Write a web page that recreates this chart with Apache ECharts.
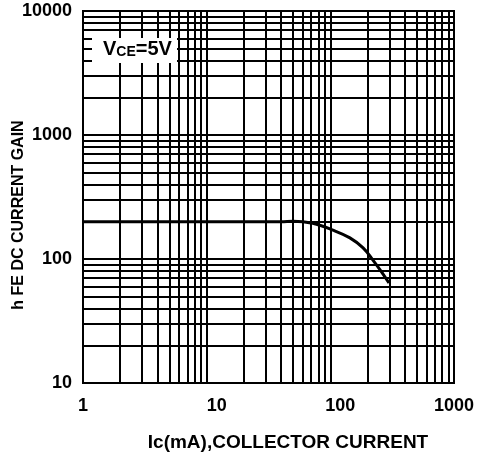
<!DOCTYPE html>
<html>
<head>
<meta charset="utf-8">
<script src="https://cdn.jsdelivr.net/npm/echarts@6/dist/echarts.min.js"></script>
<style>
html,body{margin:0;padding:0;background:#fff;}
#c{width:478px;height:456px;}
</style>
</head>
<body>
<div id="c"></div>
<script>
var xTicks = [1, 10, 100, 1000];
var yTicks = [10, 100, 1000, 10000];
var currentMA = [1, 40, 50, 72, 105, 144, 184, 221, 261, 298];
var hfeGain = [200, 200, 202, 194, 171, 148, 123, 98, 78, 64];
var xTitle = 'Ic(mA),COLLECTOR CURRENT';
var yTitle = 'h FE DC CURRENT GAIN';

var FONT = '"Liberation Sans", Arial, sans-serif';
var chart = echarts.init(document.getElementById('c'));
var data = currentMA.map(function (v, i) { return [v, hfeGain[i]]; });

chart.setOption({
  animation: false,
  backgroundColor: '#fff',
  grid: { left: 83, right: 24, top: 11, bottom: 73, show: true, borderColor: '#000', borderWidth: 2 },
  xAxis: {
    type: 'log', logBase: 10, min: xTicks[0], max: xTicks[xTicks.length - 1],
    axisLine: { show: true, lineStyle: { color: '#000', width: 2 } },
    axisTick: { show: false },
    minorTick: { show: false, splitNumber: 9 },
    splitLine: { show: true, lineStyle: { color: '#000', width: 2 } },
    minorSplitLine: { show: true, lineStyle: { color: '#000', width: 2 } },
    axisLabel: {
      margin: 14, color: '#000',
      formatter: function (v) { return (v === 10 || v === 100) ? '{s|' + v + '}' : '{n|' + v + '}'; },
      rich: {
        s: { padding: [0, 0, 0, 20], fontWeight: 'bold', fontSize: 18, fontFamily: FONT, color: '#000' },
        n: { fontWeight: 'bold', fontSize: 18, fontFamily: FONT, color: '#000' }
      }
    }
  },
  yAxis: {
    type: 'log', logBase: 10, min: yTicks[0], max: yTicks[yTicks.length - 1],
    axisLine: { show: true, lineStyle: { color: '#000', width: 2 } },
    axisTick: { show: false },
    minorTick: { show: false, splitNumber: 9 },
    splitLine: { show: true, lineStyle: { color: '#000', width: 2 } },
    minorSplitLine: { show: true, lineStyle: { color: '#000', width: 2 } },
    axisLabel: {
      margin: 11, color: '#000', fontWeight: 'bold', fontSize: 18, fontFamily: FONT,
      formatter: function (v) { return String(v); }
    }
  },
  series: [{
    type: 'line', data: data, smooth: 0.4, symbol: 'none',
    lineStyle: { color: '#000', width: 3 }, z: 5
  }],
  graphic: [
    {
      type: 'rect', left: 92, top: 38, shape: { width: 85, height: 25 },
      style: { fill: '#fff' }, z: 100
    },
    {
      type: 'text', x: 103, y: 59, z: 101,
      style: {
        text: '{a|V}{b|CE}{a|=5V}', verticalAlign: 'bottom',
        rich: {
          a: { fontSize: 20, fontWeight: 'bold', fontFamily: FONT, fill: '#000', verticalAlign: 'bottom' },
          b: { fontSize: 14, fontWeight: 'bold', fontFamily: FONT, fill: '#000', verticalAlign: 'bottom' }
        }
      }
    },
    {
      type: 'text', x: 288, y: 443, z: 101,
      style: { text: xTitle, font: 'bold 19px ' + FONT, fill: '#000', align: 'center', verticalAlign: 'middle' }
    },
    {
      type: 'text', z: 101, x: 19, y: 215, rotation: Math.PI / 2,
      style: { text: yTitle, font: 'bold 16px ' + FONT, fill: '#000', align: 'center', verticalAlign: 'middle' }
    }
  ]
});
</script>
</body>
</html>
